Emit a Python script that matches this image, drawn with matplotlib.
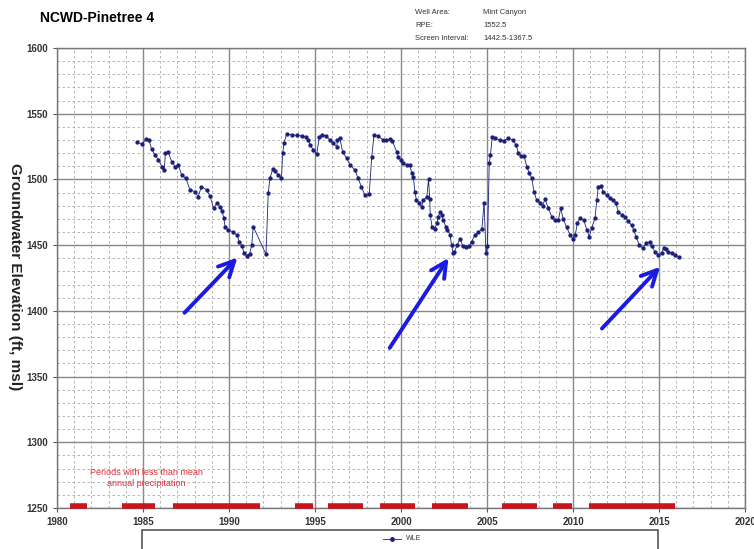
import matplotlib.pyplot as plt
from matplotlib.patches import Rectangle
from matplotlib.lines import Line2D
import numpy as np

plt.rcParams['font.family'] = ['Liberation Sans', 'DejaVu Sans']

# WLE measurements (decimal year, ft msl)
anio = [1984.63, 1984.92, 1985.2, 1985.35, 1985.5, 1985.7, 1985.9, 1986.1, 1986.24, 1986.3,
        1986.45, 1986.67, 1986.86, 1987.05, 1987.25, 1987.5, 1987.73, 1988.02, 1988.2, 1988.4,
        1988.7, 1988.9, 1989.1, 1989.3, 1989.48, 1989.6, 1989.7, 1989.77, 1989.96, 1990.25,
        1990.45, 1990.6, 1990.77, 1990.87, 1991.03, 1991.2, 1991.32, 1991.41, 1992.15, 1992.28,
        1992.38, 1992.54, 1992.7, 1992.87, 1993.05, 1993.12, 1993.2, 1993.35, 1993.65, 1993.95,
        1994.25, 1994.45, 1994.6, 1994.73, 1994.9, 1995.1, 1995.25, 1995.4, 1995.65, 1995.85,
        1996.03, 1996.27, 1996.3, 1996.45, 1996.6, 1996.84, 1997.03, 1997.33, 1997.5, 1997.7,
        1997.9, 1998.15, 1998.3, 1998.43, 1998.65, 1998.97, 1999.15, 1999.36, 1999.5, 1999.75,
        1999.84, 1999.98, 2000.13, 2000.32, 2000.52, 2000.62, 2000.72, 2000.8, 2000.9, 2001.07,
        2001.2, 2001.28, 2001.5, 2001.6, 2001.67, 2001.7, 2001.8, 2001.97, 2002.08, 2002.17,
        2002.27, 2002.37, 2002.46, 2002.6, 2002.7, 2002.85, 2002.94, 2003.04, 2003.1, 2003.27,
        2003.43, 2003.6, 2003.78, 2003.97, 2004.1, 2004.3, 2004.5, 2004.7, 2004.83, 2004.94,
        2005.02, 2005.13, 2005.2, 2005.3, 2005.46, 2005.75, 2005.98, 2006.24, 2006.5, 2006.7,
        2006.82, 2007.0, 2007.15, 2007.31, 2007.46, 2007.6, 2007.73, 2007.88, 2008.08, 2008.23,
        2008.37, 2008.57, 2008.76, 2008.95, 2009.15, 2009.28, 2009.43, 2009.63, 2009.83, 2009.98,
        2010.13, 2010.25, 2010.4, 2010.63, 2010.8, 2010.95, 2011.08, 2011.28, 2011.38, 2011.47,
        2011.6, 2011.76, 2011.96, 2012.15, 2012.35, 2012.5, 2012.63, 2012.83, 2013.02, 2013.2,
        2013.4, 2013.53, 2013.66, 2013.86, 2014.05, 2014.25, 2014.45, 2014.58, 2014.77, 2014.96,
        2015.15, 2015.29, 2015.4, 2015.55, 2015.75, 2015.93, 2016.18]
wle = [1528.7, 1527.0, 1530.5, 1530.0, 1523.0, 1518.6, 1514.8, 1509.7, 1507.0, 1519.9,
       1521.0, 1513.5, 1509.7, 1511.0, 1503.4, 1500.8, 1492.0, 1490.7, 1486.9, 1494.4,
       1492.0, 1487.0, 1478.0, 1482.0, 1479.3, 1476.0, 1470.4, 1464.0, 1461.5, 1460.0,
       1457.7, 1452.6, 1449.0, 1443.8, 1442.0, 1443.5, 1450.0, 1464.0, 1443.0, 1489.4,
       1500.8, 1507.7, 1506.0, 1503.4, 1501.0, 1519.9, 1527.5, 1534.6, 1534.0, 1533.5,
       1533.0, 1532.5, 1530.0, 1526.0, 1522.4, 1519.3, 1532.5, 1534.0, 1533.0, 1530.0,
       1527.5, 1525.0, 1530.0, 1531.3, 1521.0, 1516.0, 1511.0, 1507.0, 1500.8, 1494.5,
       1488.0, 1489.0, 1517.3, 1533.8, 1533.0, 1530.0, 1530.0, 1530.5, 1529.0, 1521.0,
       1517.3, 1514.8, 1512.3, 1511.0, 1511.0, 1504.6, 1502.0, 1490.7, 1484.3, 1481.8,
       1478.8, 1484.0, 1486.9, 1500.0, 1485.0, 1472.9, 1464.0, 1462.6, 1466.6, 1471.6,
       1475.4, 1473.0, 1469.0, 1464.0, 1461.5, 1457.7, 1450.0, 1443.8, 1445.0, 1450.0,
       1455.0, 1449.0, 1448.8, 1449.0, 1452.6, 1457.7, 1460.0, 1462.0, 1482.3, 1443.8,
       1449.0, 1512.3, 1518.6, 1532.0, 1531.5, 1530.0, 1529.5, 1531.3, 1530.0, 1526.0,
       1519.9, 1518.0, 1518.0, 1509.7, 1504.6, 1501.0, 1490.7, 1484.3, 1481.8, 1480.0,
       1484.9, 1478.0, 1471.7, 1469.0, 1469.0, 1478.0, 1470.0, 1463.5, 1457.7, 1455.0,
       1457.7, 1466.6, 1470.4, 1469.0, 1461.5, 1456.4, 1463.0, 1470.4, 1484.3, 1494.5,
       1495.0, 1490.7, 1488.0, 1485.6, 1484.5, 1481.8, 1475.4, 1473.0, 1471.6, 1468.0,
       1465.3, 1461.5, 1456.4, 1450.0, 1447.6, 1451.4, 1452.6, 1449.0, 1445.0, 1442.5,
       1444.0, 1448.0, 1447.0, 1445.0, 1444.0, 1442.5, 1440.7]

# periods with less than mean annual precipitation (start, end)
seco_ini = [1980.75, 1983.76, 1986.76, 1993.84, 1995.76, 1998.78, 2001.8, 2005.85, 2008.85, 2010.9]
seco_fin = [1981.74, 1985.7, 1991.8, 1994.86, 1997.8, 2000.8, 2003.9, 2007.9, 2009.93, 2015.9]

# arrows (tail -> head)
flecha_cola = [(1987.3, 1397), (1999.25, 1370), (2011.57, 1385)]
flecha_punta = [(1990.6, 1442), (2002.85, 1442), (2015.17, 1435)]

fig = plt.figure(figsize=(7.54, 5.49), dpi=100)
ax = fig.add_axes([0.0756, 0.0747, 0.9125, 0.838])

ax.set_xlim(1980, 2020)
ax.set_ylim(1250, 1600)
ax.set_xticks(np.arange(1980, 2021, 5))
ax.set_xticks(np.arange(1980, 2021, 1), minor=True)
ax.set_yticks(np.arange(1250, 1601, 50))
ax.set_yticks(np.arange(1250, 1601, 10), minor=True)
ax.set_xticklabels(['1980', '1985', '1990', '1995', '2000', '2005', '2010', '2015', '2020'])
ax.tick_params(axis='both', which='major', labelsize=7, length=3, color='#555555')
ax.tick_params(axis='both', which='minor', length=0)
for lbl in ax.get_xticklabels() + ax.get_yticklabels():
    lbl.set_fontweight('bold')
    lbl.set_color('#333333')

ax.grid(True, which='major', color='#888888', linewidth=1.0, linestyle='-')
ax.grid(True, which='minor', color='#aaaaaa', linewidth=0.6, linestyle=(0, (3, 3)))
ax.set_axisbelow(True)
for sp in ax.spines.values():
    sp.set_color('#777777')
    sp.set_linewidth(1.0)

ax.plot(anio, wle, '-o', color='#1b1f7a', markersize=2.1, linewidth=0.6,
        markerfacecolor='#1b1f7a', markeredgecolor='#1b1f7a', zorder=3)

# dry periods
ax.hlines([1251.5] * len(seco_ini), seco_ini, seco_fin, colors='#c8141c', linewidth=4,
          clip_on=False, zorder=4)
ax.text(1985.2, 1272.8, 'Periods with less than mean\nannual precipitation', color='#e0303a',
        fontsize=6.5, ha='center', va='center', linespacing=1.25)

for cola, punta in zip(flecha_cola, flecha_punta):
    ax.annotate('', xy=punta, xytext=cola,
                arrowprops=dict(arrowstyle='->', color='#1a1ae0', lw=2.8, mutation_scale=28),
                zorder=5)

fig.text(15 / 754, 1 - 277 / 549, 'Groundwater Elevation (ft, msl)', rotation=270,
         fontsize=11, fontweight='bold', color='#222222', ha='center', va='center')

# header
fig.text(40 / 754, 1 - 18 / 549, 'NCWD-Pinetree 4', fontsize=10, fontweight='bold',
         va='center', ha='left')
encab = ['Well Area:', 'RPE:', 'Screen Interval:']
valores = ['Mint Canyon', '1552.5', '1442.5-1367.5']
for i, (e, v) in enumerate(zip(encab, valores)):
    y = 1 - (12 + 13.5 * i) / 549
    fig.text(415 / 754, y, e, fontsize=5.5, va='center', ha='left', color='#333333')
    fig.text(483 / 754, y, v, fontsize=5.5, va='center', ha='left', color='#333333')

# legend box cut at the bottom
fig.patches.append(Rectangle((142 / 754, -0.05), (658 - 142) / 754, 0.05 + 19 / 549,
                             transform=fig.transFigure, fill=False, edgecolor='#555555',
                             linewidth=1.2))
fig.lines.append(Line2D([383 / 754, 392 / 754, 401 / 754], [1 - 539 / 549] * 3,
                        transform=fig.transFigure, color='#1b1f7a', linewidth=0.6,
                        marker='o', markersize=2.5, markevery=[1]))
fig.text(406 / 754, 1 - 539 / 549, 'WLE', fontsize=5, va='center', ha='left', color='#333333')

plt.savefig('out.png', dpi=100)
